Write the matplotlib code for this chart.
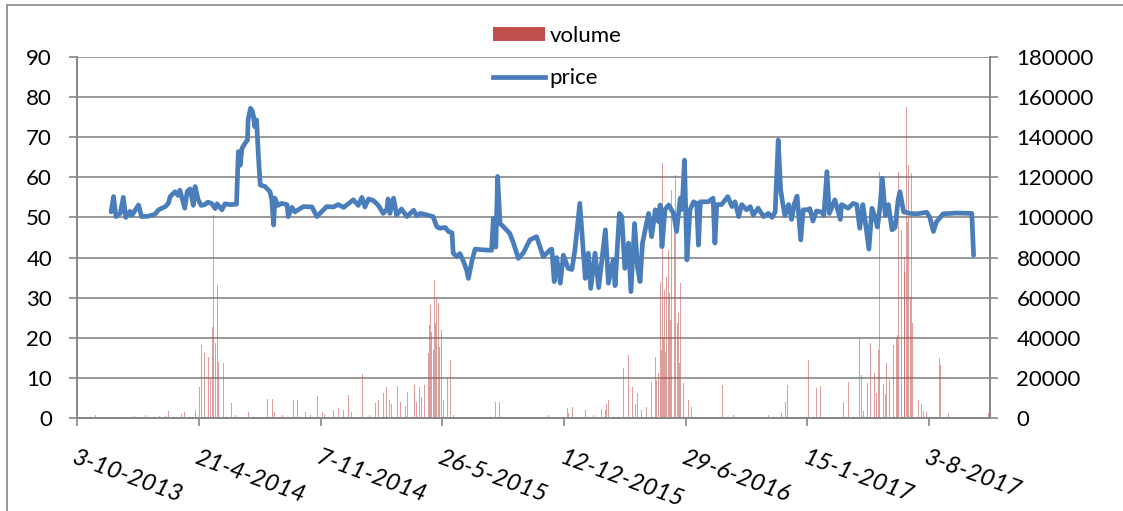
import datetime as dt
import matplotlib
matplotlib.use("Agg")
import matplotlib.pyplot as plt
from matplotlib.patches import Patch, Rectangle
from matplotlib.lines import Line2D

plt.rcParams['font.family'] = ['Lato', 'DejaVu Sans']

# ---------------------------------------------------------------
# data (dates are excel serial numbers, days since 30-12-1899)
# ---------------------------------------------------------------
price_day = [41606, 41610, 41614, 41621, 41626, 41630, 41637, 41640, 41651, 41656,
             41667, 41678, 41684, 41695, 41700, 41703, 41711, 41716, 41719, 41727,
             41731, 41736, 41741, 41744, 41749, 41754, 41760, 41765, 41771, 41777,
             41780, 41788, 41793, 41801, 41812, 41815, 41818, 41821, 41826, 41830,
             41831, 41835, 41838, 41840, 41842, 41845, 41848, 41851, 41859, 41867,
             41870, 41873, 41875, 41880, 41886, 41895, 41897, 41903, 41908, 41922,
             41936, 41944, 41955, 41960, 41971, 41979, 41988, 42004, 42012, 42018,
             42023, 42029, 42037, 42045, 42053, 42059, 42061, 42064, 42070, 42075,
             42083, 42092, 42103, 42108, 42114, 42125, 42135, 42141, 42146, 42155,
             42160, 42166, 42168, 42174, 42179, 42185, 42190, 42193, 42199, 42204,
             42218, 42231, 42234, 42238, 42241, 42245, 42253, 42261, 42267, 42275,
             42283, 42294, 42305, 42316, 42327, 42330, 42334, 42338, 42344, 42349,
             42357, 42363, 42368, 42376, 42385, 42390, 42394, 42401, 42407, 42418,
             42423, 42431, 42434, 42441, 42445, 42450, 42456, 42460, 42466, 42471,
             42475, 42479, 42489, 42494, 42500, 42505, 42508, 42511, 42516, 42522,
             42530, 42535, 42541, 42544, 42548, 42552, 42557, 42563, 42568, 42571,
             42574, 42587, 42595, 42598, 42601, 42609, 42619, 42626, 42631, 42637,
             42642, 42650, 42656, 42661, 42669, 42678, 42686, 42692, 42697, 42702,
             42706, 42710, 42713, 42719, 42724, 42728, 42733, 42739, 42743, 42752,
             42754, 42759, 42765, 42774, 42777, 42782, 42786, 42795, 42804, 42806,
             42817, 42825, 42831, 42836, 42841, 42845, 42851, 42856, 42861, 42865,
             42869, 42873, 42878, 42883, 42889, 42894, 42899, 42902, 42908, 42919,
             42930, 42938, 42946, 42951, 42957, 42962, 42973, 42995, 43020, 43023]
price_value = [51.4, 55.2, 50.2, 51.0, 55.0, 50.0, 51.5, 50.5, 53.1, 50.2,
               50.3, 50.8, 51.9, 52.7, 53.5, 55.2, 56.4, 55.5, 56.8, 52.3,
               56.5, 57.1, 53.0, 57.7, 54.4, 53.0, 53.2, 53.8, 53.5, 52.2,
               53.4, 51.9, 53.4, 53.2, 53.3, 66.4, 63.0, 67.2, 68.5, 69.3,
               74.3, 77.2, 76.5, 75.1, 72.6, 74.3, 65.2, 58.1, 57.7, 56.4,
               54.4, 48.1, 54.8, 53.0, 53.5, 53.2, 50.2, 52.5, 51.4, 52.7,
               52.6, 50.2, 51.9, 52.7, 52.6, 53.2, 52.5, 54.4, 53.0, 55.0,
               52.6, 54.6, 54.2, 53.0, 51.0, 52.0, 54.6, 51.0, 54.8, 50.6,
               52.1, 50.2, 51.8, 50.4, 51.0, 50.6, 50.2, 47.7, 47.3, 47.5,
               46.5, 46.2, 41.1, 40.2, 41.0, 39.0, 36.9, 34.8, 39.3, 42.1,
               41.9, 41.8, 49.8, 42.6, 60.2, 48.5, 47.3, 46.0, 43.6, 39.8,
               41.1, 44.4, 45.2, 40.2, 41.9, 42.1, 34.0, 40.0, 33.6, 40.6,
               37.3, 37.0, 41.9, 53.5, 34.8, 41.1, 32.3, 41.1, 32.5, 46.9,
               33.6, 39.5, 33.0, 51.0, 50.2, 37.3, 43.6, 31.5, 48.5, 37.3,
               34.0, 43.6, 51.0, 45.2, 51.9, 49.0, 53.1, 42.7, 52.0, 53.1,
               51.0, 46.5, 54.8, 52.0, 64.3, 39.4, 51.9, 53.9, 53.5, 43.1,
               53.9, 53.9, 54.8, 43.6, 53.2, 53.2, 55.2, 52.7, 53.9, 50.2,
               53.2, 51.9, 52.7, 50.6, 52.3, 50.2, 51.0, 50.0, 51.4, 69.3,
               56.8, 53.0, 50.5, 53.2, 49.5, 53.2, 55.3, 44.4, 51.9, 51.9,
               52.2, 49.1, 51.6, 51.3, 50.5, 61.4, 51.0, 54.4, 49.5, 53.2,
               52.3, 53.5, 53.2, 47.3, 53.2, 49.0, 42.1, 52.3, 50.0, 47.6,
               52.3, 59.8, 50.5, 53.2, 46.9, 47.5, 54.4, 56.4, 51.4, 51.0,
               50.9, 51.1, 51.3, 50.0, 46.5, 48.9, 50.9, 51.1, 51.0, 40.6]

vol_day = [41580, 41645, 41650, 41655, 41662, 41670, 41678, 41686, 41695, 41700,
           41706, 41716, 41721, 41727, 41734, 41739, 41742, 41744, 41751, 41755,
           41759, 41762, 41766, 41769, 41772, 41774, 41777, 41781, 41782, 41785,
           41788, 41790, 41793, 41804, 41810, 41831, 41832, 41863, 41871, 41875,
           41888, 41905, 41912, 41925, 41933, 41945, 41953, 41956, 41971, 41979,
           41988, 41996, 42001, 42015, 42019, 42031, 42040, 42045, 42051, 42053,
           42059, 42063, 42067, 42076, 42081, 42089, 42093, 42097, 42104, 42108,
           42112, 42116, 42121, 42125, 42127, 42129, 42131, 42133, 42135, 42137,
           42139, 42141, 42143, 42144, 42146, 42149, 42152, 42158, 42163, 42168,
           42238, 42244, 42322, 42324, 42356, 42358, 42364, 42385, 42398, 42412,
           42418, 42420, 42423, 42434, 42448, 42452, 42456, 42462, 42467, 42471,
           42475, 42478, 42486, 42493, 42494, 42498, 42500, 42502, 42505, 42508,
           42510, 42512, 42513, 42515, 42517, 42519, 42522, 42523, 42525, 42527,
           42529, 42531, 42533, 42534, 42536, 42538, 42540, 42542, 42544, 42546,
           42552, 42554, 42559, 42572, 42603, 42610, 42628, 42686, 42700, 42708,
           42714, 42717, 42752, 42765, 42771, 42774, 42809, 42817, 42820, 42836,
           42839, 42842, 42849, 42853, 42856, 42860, 42864, 42867, 42869, 42871,
           42875, 42878, 42880, 42885, 42889, 42892, 42896, 42898, 42900, 42902,
           42905, 42907, 42909, 42910, 42913, 42915, 42916, 42919, 42921, 42923,
           42925, 42930, 42933, 42938, 42941, 42946, 42967, 42969, 42982, 43047]
vol_value = [1500, 1000, 1500, 2000, 1500, 1000, 1500, 1000, 1200, 3600,
             1500, 2500, 2000, 3000, 2500, 31000, 12000, 4000, 15600, 36400,
             32300, 21000, 30600, 20000, 45500, 101000, 37200, 66300, 28000, 44700,
             50500, 27200, 7000, 7300, 1500, 6300, 3000, 9500, 9500, 3000,
             1500, 8800, 8800, 3000, 1500, 11000, 3000, 2000, 4000, 4800,
             4000, 11400, 3100, 6500, 21900, 1500, 7300, 9000, 5600, 12300,
             15600, 8800, 7000, 16100, 8100, 6000, 12800, 21400, 16500, 7800,
             15600, 10600, 16500, 20600, 32300, 46400, 56300, 43000, 33900, 68800,
             47200, 59700, 72100, 57200, 35500, 43900, 9000, 19800, 28900, 1500,
             8000, 8000, 2000, 1500, 4800, 2700, 5600, 4000, 1500, 4500,
             4000, 7000, 9000, 4000, 24800, 29000, 31400, 15600, 7000, 12300,
             68000, 4000, 5500, 9800, 18100, 64700, 30600, 19000, 22300, 68000,
             33900, 127000, 40500, 63800, 33000, 70500, 83800, 62200, 48900, 113700,
             63000, 92100, 121200, 129500, 47200, 52200, 27200, 67200, 21400, 17300,
             32300, 9000, 5500, 3500, 18600, 16500, 1500, 1500, 4500, 2500,
             8100, 16500, 28900, 14800, 16000, 9000, 8000, 18100, 3500, 39700,
             21400, 3500, 17300, 37200, 38000, 22300, 12600, 33900, 122800, 38900,
             17000, 12000, 27200, 19000, 30600, 36400, 39700, 41400, 122800, 77900,
             93700, 63800, 80400, 72900, 155200, 97900, 126100, 60500, 122000, 47200,
             20600, 10600, 9000, 7000, 3500, 3000, 29800, 26400, 2500, 2600]

tick_days = [41550, 41750, 41950, 42150, 42350, 42550, 42750, 42950]
tick_labels = ["3-10-2013", "21-4-2014", "7-11-2014", "26-5-2015",
               "12-12-2015", "29-6-2016", "15-1-2017", "3-8-2017"]

# ---------------------------------------------------------------
# plot
# ---------------------------------------------------------------
BLUE = '#4A7EBB'
RED = '#C0504D'
GRAY = '#868686'
FS = 16

fig = plt.figure(figsize=(11.23, 5.11), dpi=100)
ax_vol = fig.add_axes([0.0686, 0.182, 0.813, 0.7065])
ax = ax_vol.twinx()
ax.set_zorder(2)
ax.patch.set_visible(False)

ax_vol.bar(vol_day, vol_value, width=1.3, color=RED, alpha=0.55, linewidth=0, zorder=2)
ax_vol.set_ylim(0, 180000)
ax_vol.set_yticks(range(0, 180001, 20000))
ax_vol.yaxis.tick_right()
ax_vol.grid(axis='y', color=GRAY, linewidth=1.2, zorder=0)
ax_vol.set_axisbelow(True)

ax.plot(price_day, price_value, color=BLUE, linewidth=3.4,
        solid_joinstyle='round', solid_capstyle='round')
ax.set_ylim(0, 90)
ax.set_yticks(range(0, 91, 10))
ax.yaxis.tick_left()

ax_vol.set_xlim(41550, 43050)
ax_vol.set_xticks(tick_days)
ax_vol.set_xticklabels(tick_labels, rotation=-20, ha='left', va='top',
                       rotation_mode='anchor', fontsize=17.5, style='italic')

for a in (ax, ax_vol):
    for side in ('left', 'right', 'bottom'):
        a.spines[side].set_color(GRAY)
        a.spines[side].set_linewidth(1.2)
    a.spines['top'].set_visible(False)
    a.tick_params(colors=GRAY, labelcolor='black', width=1.2, length=6)

ax.tick_params(axis='y', pad=12, labelsize=FS)
ax_vol.tick_params(axis='y', pad=13, labelsize=FS)
ax_vol.tick_params(axis='x', pad=15)

handles = [Patch(facecolor=RED, edgecolor='none'),
           Line2D([0], [0], color=BLUE, linewidth=3.4)]
fig.legend(handles, ['volume', 'price'], loc='upper left',
           bbox_to_anchor=(0.421, 0.989), frameon=False, fontsize=FS,
           handlelength=2.35, handleheight=0.6, handletextpad=0.2,
           labelspacing=1.02)

fig.patches.append(Rectangle((7 / 1123, -0.05), 1.2, 1.04,
                             transform=fig.transFigure, fill=False,
                             edgecolor=GRAY, linewidth=1.2))

fig.savefig('out.png', dpi=100)
